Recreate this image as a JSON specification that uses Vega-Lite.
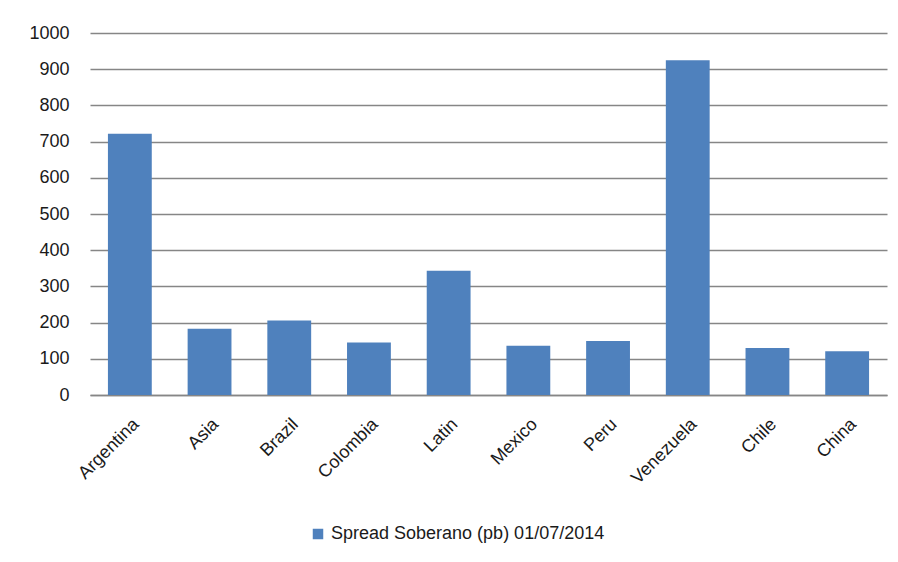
{
  "$schema": "https://vega.github.io/schema/vega-lite/v6.json",
  "autosize": {"type": "none"},
  "padding": {"left": 90, "top": 33, "right": 11, "bottom": 167},
  "width": 797,
  "height": 362,
  "background": "white",
  "data": {
    "values": [
      {"country": "Argentina", "spread": 722, "series": "Spread Soberano (pb) 01/07/2014"},
      {"country": "Asia", "spread": 183, "series": "Spread Soberano (pb) 01/07/2014"},
      {"country": "Brazil", "spread": 206, "series": "Spread Soberano (pb) 01/07/2014"},
      {"country": "Colombia", "spread": 145, "series": "Spread Soberano (pb) 01/07/2014"},
      {"country": "Latin", "spread": 343, "series": "Spread Soberano (pb) 01/07/2014"},
      {"country": "Mexico", "spread": 136, "series": "Spread Soberano (pb) 01/07/2014"},
      {"country": "Peru", "spread": 149, "series": "Spread Soberano (pb) 01/07/2014"},
      {"country": "Venezuela", "spread": 925, "series": "Spread Soberano (pb) 01/07/2014"},
      {"country": "Chile", "spread": 130, "series": "Spread Soberano (pb) 01/07/2014"},
      {"country": "China", "spread": 121, "series": "Spread Soberano (pb) 01/07/2014"}
    ]
  },
  "mark": {"type": "bar"},
  "encoding": {
    "x": {
      "field": "country",
      "type": "nominal",
      "sort": null,
      "title": null,
      "scale": {"paddingInner": 0.45, "paddingOuter": 0.225},
      "axis": {
        "labelAngle": -45,
        "labelAlign": "right",
        "labelBaseline": "top",
        "labelPadding": 20,
        "labelOffset": 0,
        "labelFont": "Liberation Sans",
        "labelFontSize": 18,
        "labelColor": "#1a1a1a",
        "ticks": false,
        "domainColor": "#868686",
        "domainWidth": 1.5
      }
    },
    "y": {
      "field": "spread",
      "type": "quantitative",
      "title": null,
      "scale": {"domain": [0, 1000], "nice": false},
      "axis": {
        "values": [0, 100, 200, 300, 400, 500, 600, 700, 800, 900, 1000],
        "format": "d",
        "domain": false,
        "ticks": false,
        "labelPadding": 21,
        "labelFont": "Liberation Sans",
        "labelFontSize": 18,
        "labelColor": "#1a1a1a",
        "gridColor": "#868686",
        "gridWidth": 1.5
      }
    },
    "color": {
      "field": "series",
      "type": "nominal",
      "scale": {"range": ["#4F81BD"]},
      "legend": {
        "title": null,
        "orient": "none",
        "legendX": 219,
        "legendY": 492,
        "direction": "horizontal",
        "symbolType": "square",
        "symbolSize": 110,
        "symbolStrokeWidth": 0,
        "labelFont": "Liberation Sans",
        "labelFontSize": 18,
        "labelColor": "#1a1a1a",
        "labelLimit": 0,
        "labelOffset": 4
      }
    }
  },
  "config": {
    "view": {"stroke": null}
  }
}
